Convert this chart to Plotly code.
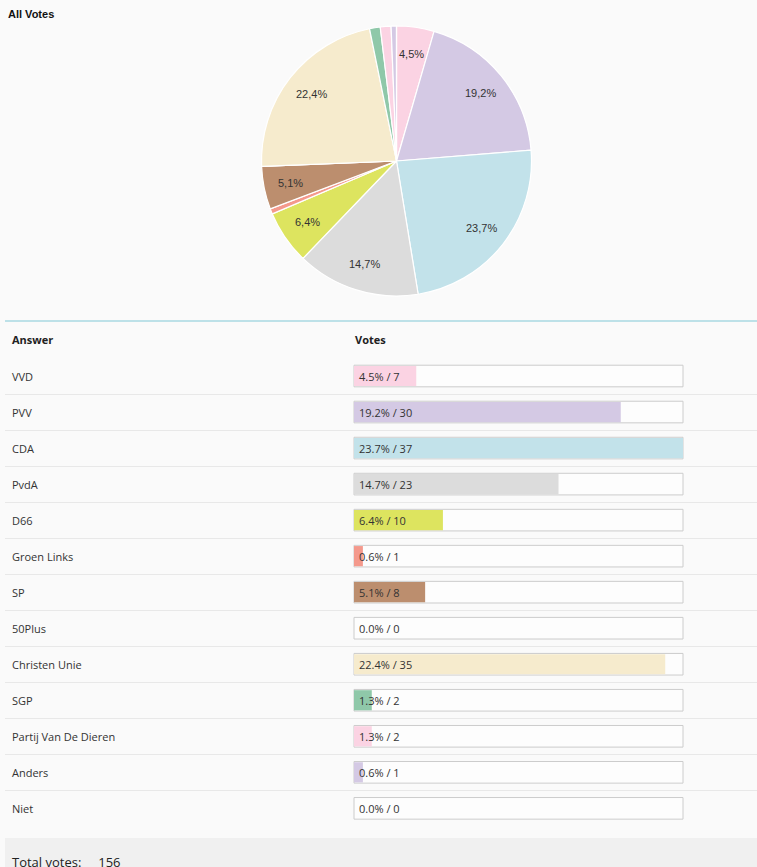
import math
import plotly.graph_objects as go

# poll answers and votes
answers = ["VVD", "PVV", "CDA", "PvdA", "D66", "Groen Links", "SP", "50Plus",
           "Christen Unie", "SGP", "Partij Van De Dieren", "Anders", "Niet"]
votes = [7, 30, 37, 23, 10, 1, 8, 0, 35, 2, 2, 1, 0]
colors = ["#fbd3e3", "#d4c9e4", "#c2e2ea", "#dcdcdc", "#dde45f", "#f4998c",
          "#bc8e6e", "#e0e0e0", "#f6ebcd", "#8fc8a9", "#fbd3e3", "#d4c9e4", "#e0e0e0"]

total = sum(votes)
vmax = max(votes)
shares = [v / total * 100 for v in votes]

W, H = 757, 867
TEXT = "#333333"

# pie geometry (pixels)
PX0, PX1, PY0, PY1 = 261.5, 531.5, 26, 296
R = (PX1 - PX0) / 2
cx, cy = (PX0 + PX1) / 2 / W, 1 - (PY0 + PY1) / 2 / H

bar_text = [f"{s:.1f}% / {v}" for s, v in zip(shares, votes)]

fig = go.Figure()

fig.add_trace(go.Pie(
    labels=answers, values=votes, textinfo="none",
    sort=False, direction="clockwise", rotation=0,
    marker=dict(colors=colors, line=dict(color="white", width=1.2)),
    domain=dict(x=[PX0 / W, PX1 / W], y=[1 - PY1 / H, 1 - PY0 / H]),
    showlegend=False, hoverinfo="skip",
))

# empty track behind each bar
fig.add_trace(go.Bar(
    y=answers, x=[vmax] * len(answers), orientation="h", width=0.6,
    marker=dict(color="#fdfdfd", line=dict(color="#cccccc", width=1)),
    showlegend=False, hoverinfo="skip",
))
fig.add_trace(go.Bar(
    y=answers, x=votes, orientation="h", width=0.56,
    marker=dict(color=colors, line=dict(width=0)),
    showlegend=False, hoverinfo="skip",
))

scale = 329 / vmax
fig.update_xaxes(domain=[5 / W, 1], range=[-(354 - 5) / scale, (W - 354) / scale],
                 showgrid=False, zeroline=False, showticklabels=False, fixedrange=True)
fig.update_yaxes(domain=[1 - 826 / H, 1 - 358 / H], type="category",
                 range=[len(answers) - 0.51, -0.5], tickson="boundaries",
                 showgrid=True, gridcolor="#e8e8e8", gridwidth=1,
                 showticklabels=False, ticks="", zeroline=False, fixedrange=True)

annotations = [
    dict(text="<b>All Votes</b>", x=6 / W, y=1 - 6 / H, xref="paper", yref="paper",
         xanchor="left", yanchor="top", showarrow=False,
         font=dict(family="Liberation Sans, Arial", size=11, color="#111111")),
    dict(text="<b>Answer</b>", x=10 / W, y=1 - 340 / H, xref="paper", yref="paper",
         xanchor="left", yanchor="middle", showarrow=False,
         font=dict(family="Open Sans", size=11, color="#222222")),
    dict(text="<b>Votes</b>", x=0, y=1 - 340 / H, xref="x", yref="paper", xshift=-1,
         xanchor="left", yanchor="middle", showarrow=False,
         font=dict(family="Open Sans", size=11, color="#222222")),
    dict(text=f"Total votes:&nbsp;&nbsp;&nbsp;&nbsp;&nbsp;{total}", x=10 / W, y=1 - 862 / H,
         xref="paper", yref="paper", xanchor="left", yanchor="middle", showarrow=False,
         font=dict(family="Open Sans", size=13, color="#222222")),
]

# pie percentage labels (decimal comma), placed at 80% of the radius
cum = 0
for v, s in zip(votes, shares):
    mid = (cum + v / 2) / total * 2 * math.pi
    cum += v
    if s < 4:
        continue
    annotations.append(dict(
        text=f"{s:.1f}%".replace(".", ","),
        x=cx + 0.8 * R * math.sin(mid) / W, y=cy + 0.8 * R * math.cos(mid) / H,
        xref="paper", yref="paper", xanchor="center", yanchor="middle", showarrow=False,
        font=dict(family="Liberation Sans, Arial", size=11, color=TEXT)))

for a, t in zip(answers, bar_text):
    annotations.append(dict(text=a, x=10 / W, y=a, xref="paper", yref="y",
                            xanchor="left", yanchor="middle", showarrow=False,
                            font=dict(family="Open Sans", size=11, color=TEXT)))
    annotations.append(dict(text=t, x=0, y=a, xref="x", yref="y", xshift=3,
                            xanchor="left", yanchor="middle", showarrow=False,
                            font=dict(family="Open Sans", size=11, color=TEXT)))

shapes = [
    dict(type="line", xref="paper", yref="paper", x0=5 / W, x1=1,
         y0=1 - 321 / H, y1=1 - 321 / H, line=dict(color="#80c8d6", width=1)),
    dict(type="rect", xref="paper", yref="paper", x0=5 / W, x1=1,
         y0=0, y1=1 - 838 / H, fillcolor="#f0f0f0", line=dict(width=0), layer="below"),
]

fig.update_layout(
    width=W, height=H, margin=dict(l=0, r=0, t=0, b=0),
    paper_bgcolor="#fafafa", plot_bgcolor="rgba(0,0,0,0)",
    barmode="overlay", annotations=annotations, shapes=shapes,
    font=dict(family="Open Sans", color=TEXT),
)

fig.write_html("out.html", config={"displayModeBar": False},
               post_script="document.body.style.margin='0';")
